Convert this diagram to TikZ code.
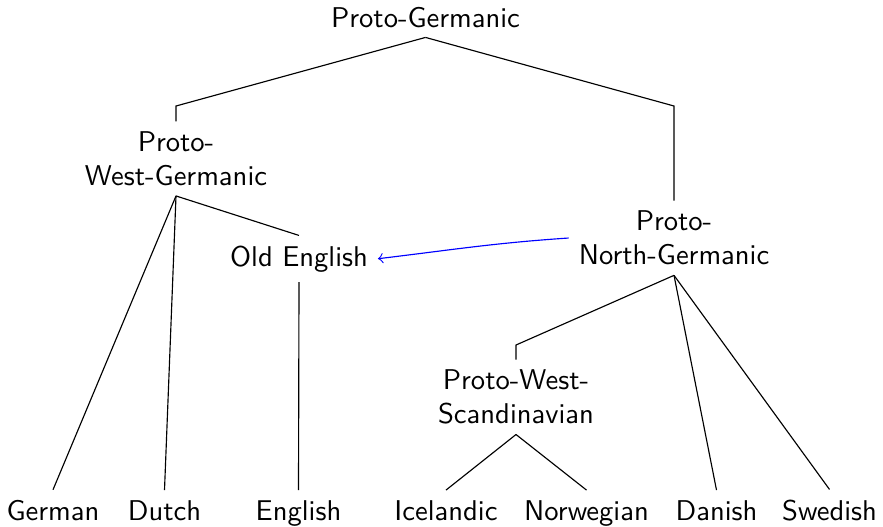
\documentclass[tikz,border=0pt]{standalone}
\begin{document}
\begin{tikzpicture}[x=0.3497pt,y=-0.3497pt,
  lang/.style={font=\sffamily, align=center, inner sep=3.33pt},
  branch/.style={draw=black, line width=0.4pt},
  borrow/.style={draw=blue, line width=0.4pt, ->}]
\useasboundingbox (0,0) rectangle (883,526);

% language nodes
\node[lang, anchor=base] (pg) at (425.5,27) {Proto-Germanic};
\node[lang] (pwg) at (176,158.6) {Proto-\\West-Germanic};
\node[lang] (png) at (674,238) {Proto-\\North-Germanic};
\node[lang, anchor=base] (oe) at (299,266) {Old English};
\node[lang] (pws) at (516,397) {Proto-West-\\Scandinavian};

\node[lang, anchor=base] (german)    at (53,520)    {German};
\node[lang, anchor=base] (dutch)     at (164.5,520) {Dutch};
\node[lang, anchor=base] (english)   at (298.5,520) {English};
\node[lang, anchor=base] (icelandic) at (446,520)   {Icelandic};
\node[lang, anchor=base] (norwegian) at (586.5,520) {Norwegian};
\node[lang, anchor=base] (danish)    at (716.5,520) {Danish};
\node[lang, anchor=base] (swedish)   at (829.5,520) {Swedish};

% levels where elbowed branches turn vertical
\coordinate (lvlA) at (0,106);
\coordinate (lvlB) at (0,345);

% tree branches
\draw[branch] (pg.south) -- (pwg.north |- lvlA) -- (pwg.north);
\draw[branch] (pg.south) -- (png.north |- lvlA) -- (png.north);
\draw[branch] (pwg.south) -- (german.north);
\draw[branch] (pwg.south) -- (dutch.north);
\draw[branch] (pwg.south) -- (oe.north);
\draw[branch] (oe.south) -- (english.north);
\draw[branch] (png.south) -- (pws.north |- lvlB) -- (pws.north);
\draw[branch] (png.south) -- (danish.north);
\draw[branch] (png.south) -- (swedish.north);
\draw[branch] (pws.south) -- (icelandic.north);
\draw[branch] (pws.south) -- (norwegian.north);

% contact influence
\draw[borrow] (png.west) .. controls +(-75,5) and +(75,-9) .. (oe.east);
\end{tikzpicture}
\end{document}
